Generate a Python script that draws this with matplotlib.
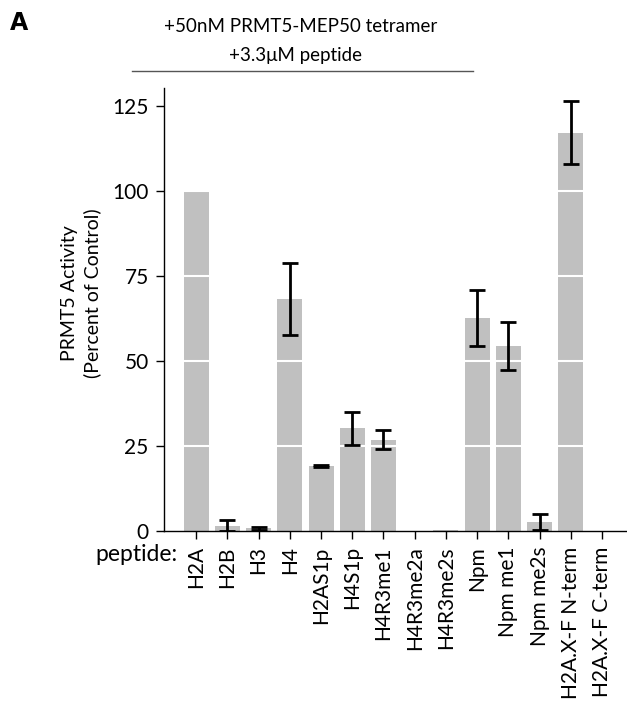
import matplotlib
matplotlib.use("Agg")
import matplotlib.pyplot as plt
import numpy as np

plt.rcParams['font.family'] = ['Lato', 'DejaVu Sans']

# peptides tested and PRMT5 activity (percent of control)
peptides = ['H2A', 'H2B', 'H3', 'H4', 'H2AS1p', 'H4S1p', 'H4R3me1',
            'H4R3me2a', 'H4R3me2s', 'Npm', 'Npm me1', 'Npm me2s',
            'H2A.X-F N-term', 'H2A.X-F C-term']
activity = [100, 1.5, 0.8, 68.3, 19.2, 30.2, 26.8,
            0, 0.3, 62.7, 54.4, 2.6, 117.2, 0]
errors = [0, 1.6, 0.4, 10.6, 0.3, 4.8, 2.8,
          0, 0, 8.3, 7.0, 2.3, 9.2, 0]
yticks = [0, 25, 50, 75, 100, 125]

fig = plt.figure(figsize=(6.27, 7.06), dpi=100)
ax = fig.add_axes([0.2616, 0.2479, 0.7384, 0.6275])

x = np.arange(len(peptides))
ax.bar(x, activity, width=0.8, color='#c0c0c0', zorder=1)
# white lines across the bars
for yv in yticks[1:-1]:
    ax.axhline(yv, color='white', lw=1.5, zorder=2)
yerr = np.array(errors)
mask = yerr > 0
ax.errorbar(x[mask], np.array(activity)[mask], yerr=yerr[mask], fmt='none',
            ecolor='black', elinewidth=2, capsize=5.5, capthick=2, zorder=3)

ax.set_xlim(-1.03, 13.8)
ax.set_ylim(0, 130.3)
ax.set_yticks(yticks)
ax.set_xticks(x)
ax.set_xticklabels(peptides, rotation=90, fontsize=15)
ax.tick_params(axis='y', labelsize=15, length=6, width=1, pad=5)
ax.tick_params(axis='x', length=6, width=1, pad=5)
for side in ['top', 'right']:
    ax.spines[side].set_visible(False)
ax.spines['left'].set_linewidth(1)
ax.spines['bottom'].set_linewidth(1)

fig.text(0.129, 0.585, 'PRMT5 Activity\n(Percent of Control)', fontsize=14,
         rotation=90, ha='center', va='center', multialignment='center',
         linespacing=1.35)

fig.text(0.283, 0.229, 'peptide:', fontsize=16.5, ha='right', va='top')
fig.text(0.479, 0.963, '+50nM PRMT5-MEP50 tetramer', fontsize=13.5,
         ha='center', va='center')
fig.text(0.471, 0.921, '+3.3\u03bcM peptide', fontsize=13.5,
         ha='center', va='center')
fig.add_artist(plt.Line2D([0.211, 0.754], [0.9, 0.9], color='#555555', lw=1))
fig.text(0.016, 0.967, 'A', fontsize=17, fontweight='bold', ha='left',
         va='center', family='DejaVu Sans')

fig.savefig('out.png', dpi=100)
